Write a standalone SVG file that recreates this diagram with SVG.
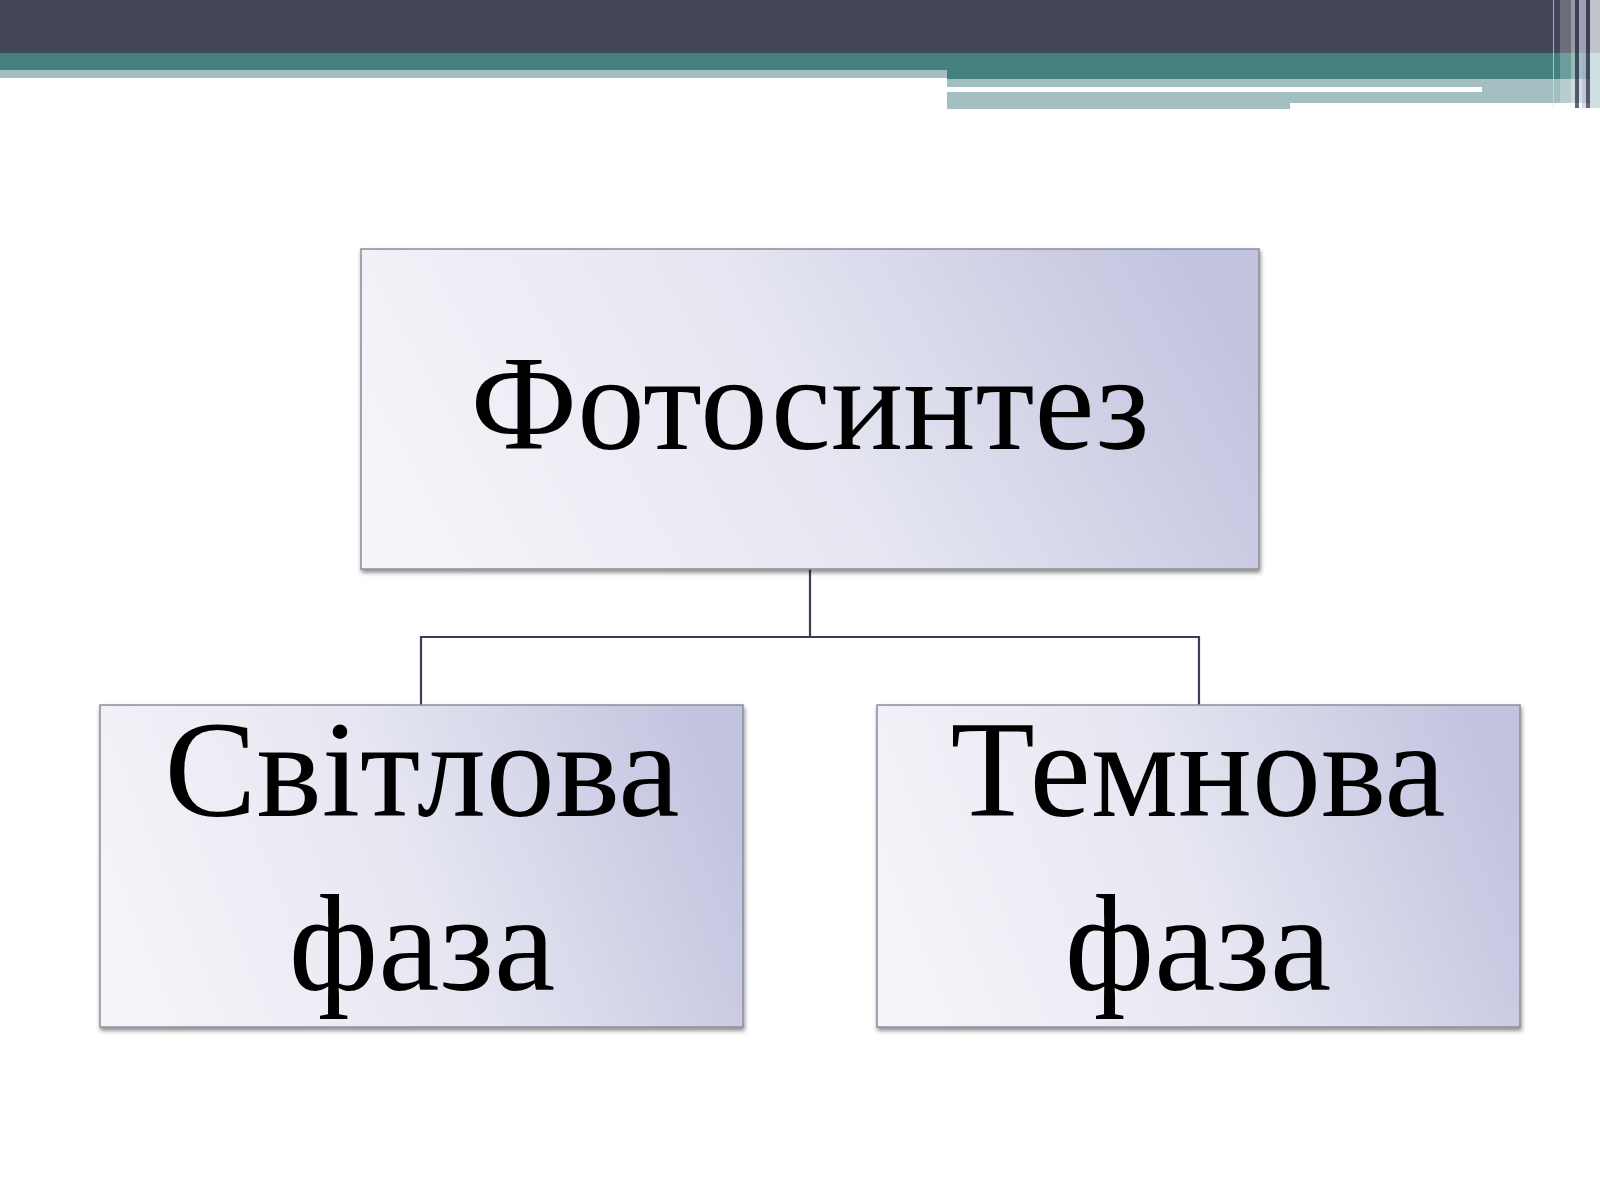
<svg xmlns="http://www.w3.org/2000/svg" width="1600" height="1200" viewBox="0 0 1600 1200">
  <defs>
    <linearGradient id="boxFill" x1="0" y1="0.6" x2="1" y2="0.4">
      <stop offset="0" stop-color="#f4f4f9"/>
      <stop offset="0.5" stop-color="#e5e6f1"/>
      <stop offset="1" stop-color="#c2c3df"/>
    </linearGradient>
    <filter id="shadow" x="-5%" y="-5%" width="110%" height="115%">
      <feDropShadow dx="1" dy="3" stdDeviation="2" flood-color="#000" flood-opacity="0.45"/>
    </filter>
  </defs>
  <style>
    .box { fill: url(#boxFill); stroke: #8c8c9c; stroke-width: 1.5; filter: url(#shadow); }
    .label { font-family: "Liberation Serif", "Times New Roman", serif; font-size: 138px; fill: #000; text-anchor: middle; }
    .title { font-size: 135px; }
    .conn { fill: none; stroke: #3c3d58; stroke-width: 2.2; }
  </style>
  <rect width="1600" height="1200" fill="#ffffff"/>

  <g id="header">
    <rect x="0" y="0" width="1600" height="51" fill="#424457"/>
    <rect x="0" y="50" width="1600" height="3" fill="#3e4a58"/>
    <rect x="0" y="53" width="1600" height="17" fill="#45807f"/>
    <rect x="947" y="70" width="653" height="9" fill="#45807f"/>
    <rect x="0" y="70" width="947" height="8" fill="#a3bfc2"/>
    <rect x="947" y="79" width="653" height="24" fill="#a3bfc2"/>
    <rect x="947" y="103" width="343" height="6" fill="#a3bfc2"/>
    <rect x="947" y="87" width="535" height="5" fill="#ffffff"/>
    <rect x="1553" y="0" width="1" height="108" fill="#d8dde2" opacity="0.7"/>
    <rect x="1560" y="0" width="11" height="108" fill="#ffffff" opacity="0.22"/>
    <rect x="1571" y="0" width="4" height="108" fill="#ffffff" opacity="0.45"/>
    <rect x="1575" y="0" width="4" height="108" fill="#3d3f55" opacity="0.8"/>
    <rect x="1579" y="0" width="3" height="108" fill="#ffffff" opacity="0.5"/>
    <rect x="1582" y="0" width="4" height="108" fill="#c8c8e0" opacity="0.7"/>
    <rect x="1586" y="0" width="4" height="108" fill="#3d3f55" opacity="0.8"/>
    <rect x="1590" y="0" width="10" height="108" fill="#c2c3c8"/>
    <rect x="1590" y="53" width="10" height="55" fill="#cfe0e0"/>
  </g>

  <g id="connectors">
    <path class="conn" d="M810 569 V637 M421 637 H1199 M421 636 V705 M1199 636 V705"/>
  </g>

  <g id="node-photosynthesis">
    <rect class="box" x="361" y="249" width="898" height="320"/>
    <text class="label title" x="810" y="449">Фотосинтез</text>
  </g>

  <g id="node-light-phase">
    <rect class="box" x="100" y="705" width="643" height="322"/>
    <text class="label" x="422" y="816">Світлова</text>
    <text class="label" x="422" y="990">фаза</text>
  </g>

  <g id="node-dark-phase">
    <rect class="box" x="877" y="705" width="643" height="322"/>
    <text class="label" x="1198" y="816">Темнова</text>
    <text class="label" x="1198" y="990">фаза</text>
  </g>
</svg>
